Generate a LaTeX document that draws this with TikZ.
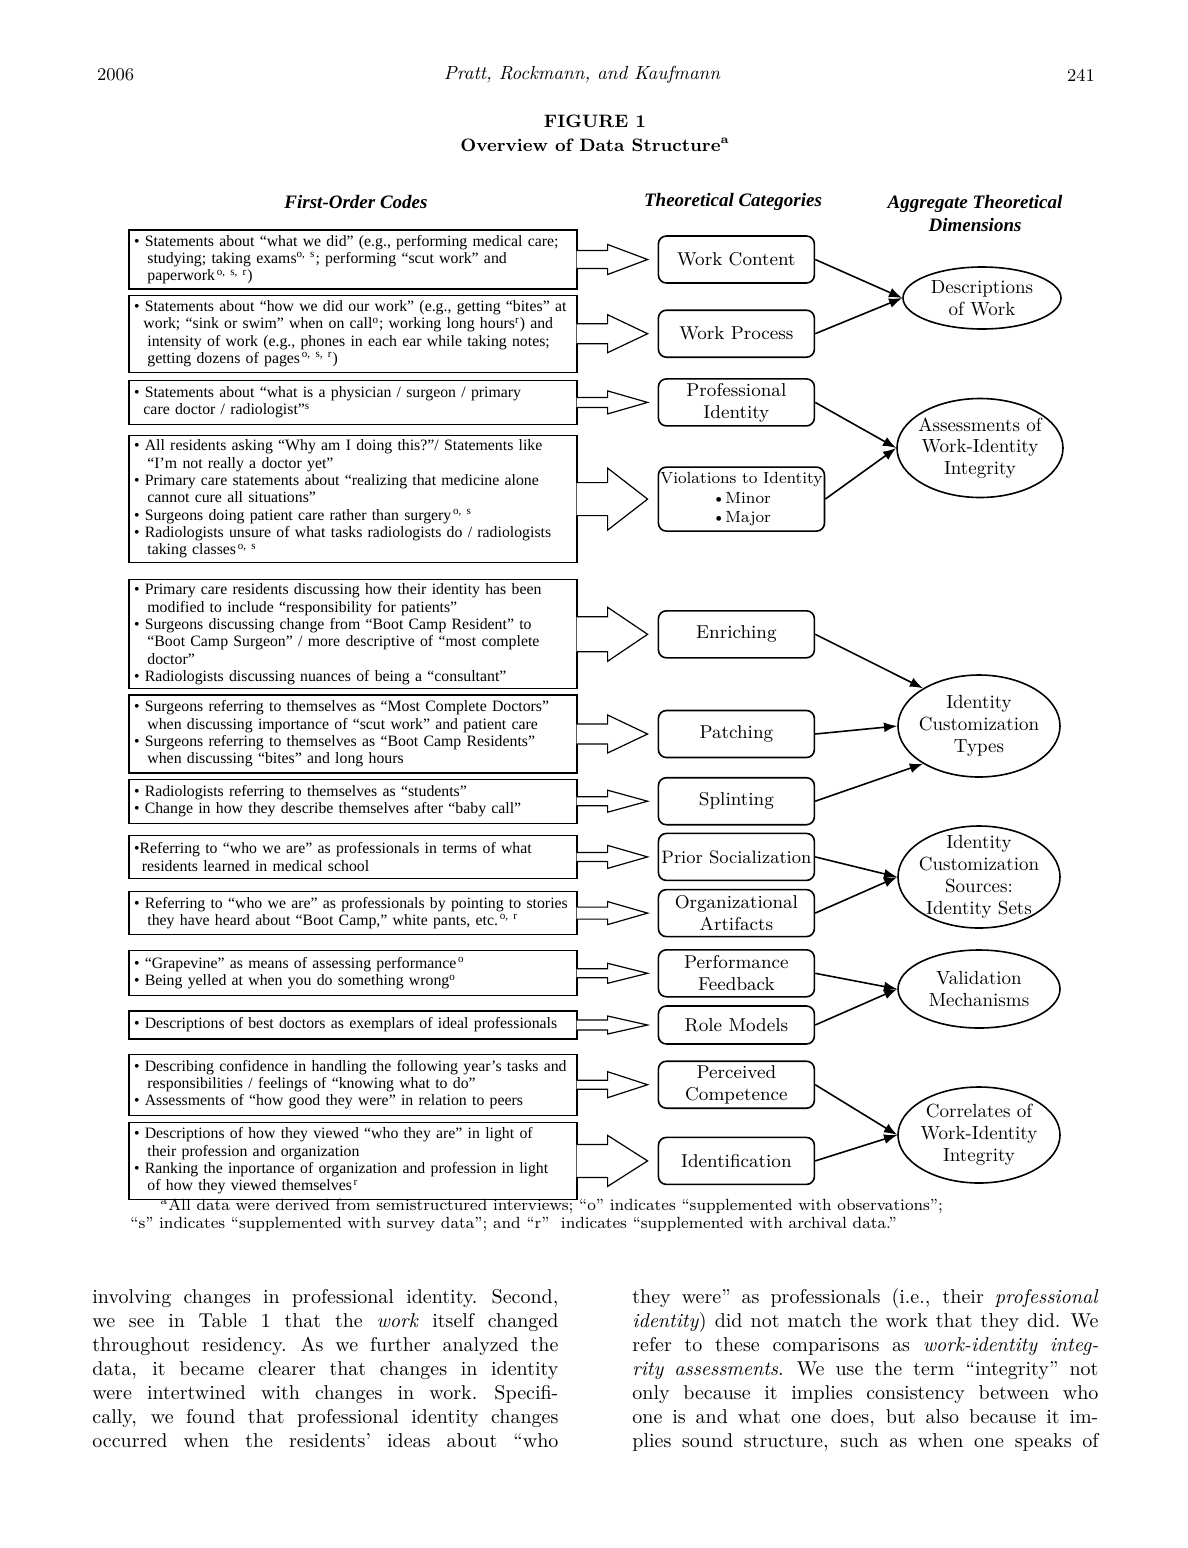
\documentclass[tikz,border=0pt]{standalone}
\usepackage{fontspec}
\newfontfamily\timesfont{Liberation Serif}
\usetikzlibrary{shapes,arrows,positioning,arrows.meta}
\newcommand{\jline}[1]{\leavevmode\hbox to 233pt{\spaceskip=0.3em plus 1fil\xspaceskip=0.4em plus 1fil\relax #1}}

\begin{document}
\begin{tikzpicture}[
    >=Latex,
    x=0.5pt, y=-0.5pt,
    code/.style={rectangle, draw=black, semithick, align=left, text width=219pt, inner xsep=2.5pt, inner ysep=0pt, font=\timesfont\fontsize{7.9}{8.65}\selectfont},
    cat/.style={rectangle, rounded corners=4pt, draw=black, thick, align=center, minimum width=78pt, minimum height=23.5pt, inner sep=1pt, font=\fontsize{9.3}{11}\selectfont},
    dim/.style={ellipse, draw=black, thick, align=center, inner sep=-6pt, minimum width=81pt, font=\fontsize{9.5}{10.9}\selectfont},
    colhead/.style={align=center, font=\timesfont\bfseries\itshape\fontsize{9.5}{11.5}\selectfont},
    blk/.style={fill=white, draw=black, semithick},
    body/.style={anchor=base west, align=left, text width=233pt, inner sep=0pt, font=\fontsize{10}{12}\selectfont},
    node distance=40pt
  ]
    \useasboundingbox[fill=white] (0,0) rectangle (1188,1548);

    % running head and title
    \node[anchor=west, font=\fontsize{9}{11}\selectfont] (year) at (90,75) {2006};
    \node[font=\itshape\fontsize{9.5}{11}\selectfont] (authors) at (582,75) {Pratt, Rockmann, and Kaufmann};
    \node[anchor=east, font=\fontsize{9}{11}\selectfont] (page) at (1102,75) {241};
    \node[font=\bfseries\fontsize{9}{11}\selectfont] (fig) at (595,121) {FIGURE 1};
    \node[font=\bfseries\fontsize{9}{11}\selectfont] (title) at (595,145) {Overview of Data Structure\textsuperscript{a}};

    \node[colhead] (h1) at (356,202) {First-Order Codes};
    \node[colhead] (h2) at (733,202) {Theoretical Categories};
    \node[colhead] (h3) at (975,213.5) {Aggregate Theoretical\\Dimensions};

    % first-order codes
    \node[code, minimum height=29.5pt] (c1) at (353,259.5) {\textbullet\ Statements about “what we did” (e.g., performing medical care;\\\hspace*{0.85em}studying; taking exams\textsuperscript{o, s}; performing “scut work” and\\\hspace*{0.85em}paperwork\textsuperscript{\,o, s, r})};
    \node[code, minimum height=38.5pt, below=2.5pt of c1] (c2) {\textbullet\ Statements about “how we did our work” (e.g., getting “bites” at\\\hspace*{0.6em}work; “sink or swim” when on call\textsuperscript{o}; working long hours\textsuperscript{r}) and\\\hspace*{0.85em}intensity of work (e.g., phones in each ear while taking notes;\\\hspace*{0.85em}getting dozens of pages\textsuperscript{\,o, s, r})};
    \node[code, minimum height=22pt, below=3.5pt of c2] (c3) {\textbullet\ Statements about “what is a physician / surgeon / primary\\\hspace*{0.6em}care doctor / radiologist”\textsuperscript{s}};
    \node[code, minimum height=63.5pt, below=5pt of c3] (c4) {\textbullet\ All residents asking “Why am I doing this?”/ Statements like\\\hspace*{0.85em}“I’m not really a doctor yet”\\\textbullet\ Primary care statements about “realizing that medicine alone\\\hspace*{0.85em}cannot cure all situations”\\\textbullet\ Surgeons doing patient care rather than surgery\textsuperscript{\,o, s}\\\textbullet\ Radiologists unsure of what tasks radiologists do / radiologists\\\hspace*{0.85em}taking classes\textsuperscript{\,o, s}};
    \node[code, minimum height=54.5pt, below=8pt of c4] (c5) {\textbullet\ Primary care residents discussing how their identity has been\\\hspace*{0.85em}modified to include “responsibility for patients”\\\textbullet\ Surgeons discussing change from “Boot Camp Resident” to\\\hspace*{0.85em}“Boot Camp Surgeon” / more descriptive of “most complete\\\hspace*{0.85em}doctor”\\\textbullet\ Radiologists discussing nuances of being a “consultant”};
    \node[code, minimum height=39pt, below=2.5pt of c5] (c6) {\textbullet\ Surgeons referring to themselves as “Most Complete Doctors”\\\hspace*{0.85em}when discussing importance of “scut work” and patient care\\\textbullet\ Surgeons referring to themselves as “Boot Camp Residents”\\\hspace*{0.85em}when discussing “bites” and long hours};
    \node[code, minimum height=22pt, below=2.5pt of c6] (c7) {\textbullet\ Radiologists referring to themselves as “students”\\\textbullet\ Change in how they describe themselves after “baby call”};
    \node[code, minimum height=21.5pt, below=5.5pt of c7] (c8) {\textbullet Referring to “who we are” as professionals in terms of what\\\hspace*{0.5em}residents learned in medical school};
    \node[code, minimum height=21.5pt, below=6pt of c8] (c9) {\textbullet\ Referring to “who we are” as professionals by pointing to stories\\\hspace*{0.85em}they have heard about “Boot Camp,” white pants, etc.\textsuperscript{\,o, r}};
    \node[code, minimum height=22.5pt, below=7.5pt of c9] (c10) {\textbullet\ “Grapevine” as means of assessing performance\textsuperscript{\,o}\\\textbullet\ Being yelled at when you do something wrong\textsuperscript{o}};
    \node[code, minimum height=14pt, below=7pt of c10] (c11) {\textbullet\ Descriptions of best doctors as exemplars of ideal professionals};
    \node[code, minimum height=30.5pt, below=7pt of c11] (c12) {\textbullet\ Describing confidence in handling the following year’s tasks and\\\hspace*{0.85em}responsibilities / feelings of “knowing what to do”\\\textbullet\ Assessments of “how good they were” in relation to peers};
    \node[code, minimum height=38.5pt, below=3pt of c12] (c13) {\textbullet\ Descriptions of how they viewed “who they are” in light of\\\hspace*{0.85em}their profession and organization\\\textbullet\ Ranking the inportance of organization and profession in light\\\hspace*{0.85em}of how they viewed themselves\textsuperscript{\,r}};

    % theoretical categories
    \node[cat, right=of c1] (wc) {Work Content};
    \node[cat, right=of c2] (wp) {Work Process};
    \node[cat, right=of c3] (pi) {Professional\\Identity};
    \node[cat, right=of c4, minimum height=32pt, font=\fontsize{8.1}{9.75}\selectfont] (vi) {Violations to Identity\\\textbullet Minor\\\textbullet Major};
    \node[cat, right=of c5] (en) {Enriching};
    \node[cat, right=of c6] (pa) {Patching};
    \node[cat, right=of c7] (sp) {Splinting};
    \node[cat, right=of c8, font=\fontsize{9}{11}\selectfont] (ps) {Prior Socialization};
    \node[cat, right=of c9] (oa) {Organizational\\Artifacts};
    \node[cat, right=of c10] (pf) {Performance\\Feedback};
    \node[cat, right=of c11, minimum height=19pt] (rm) {Role Models};
    \node[cat, right=of c12] (pc) {Perceived\\Competence};
    \node[cat, right=of c13] (id) {Identification};

    % aggregate dimensions
    \node[dim, minimum width=79pt, minimum height=31pt] (dw) at (982,298) {Descriptions\\of Work};
    \node[dim, minimum width=83pt, minimum height=49.5pt] (aw) at (980,448) {Assessments of\\Work-Identity\\Integrity};
    \node[dim, minimum height=51pt] (ict) at (979,726) {Identity\\Customization\\Types};
    \node[dim, minimum height=51pt] (ics) at (979,877) {Identity\\Customization\\Sources:\\Identity Sets};
    \node[dim, minimum height=39pt] (vm) at (979,989) {Validation\\Mechanisms};
    \node[dim, minimum height=48pt] (cw) at (979,1135) {Correlates of\\Work-Identity\\Integrity};

    % block arrows
    \filldraw[blk] (c1.east) ++(-1,-9) -- ++(31,0) -- ++(0,-6) -- ([xshift=-5pt]wc.west) -- ++(-40,15) -- ++(0,-6) -- ++(-31,0);
    \filldraw[blk] (c2.east) ++(-1,-10) -- ++(31,0) -- ++(0,-9) -- ([xshift=-5pt]wp.west) -- ++(-40,19) -- ++(0,-9) -- ++(-31,0);
    \filldraw[blk] (c3.east) ++(-1,-5) -- ++(31,0) -- ++(0,-6.5) -- ([xshift=-5pt]pi.west) -- ++(-40,11.5) -- ++(0,-6.5) -- ++(-31,0);
    \filldraw[blk] (c4.east) ++(-1,-16.5) -- ++(31,0) -- ++(0,-14.5) -- ([xshift=-5pt]vi.west) -- ++(-40,31) -- ++(0,-14.5) -- ++(-31,0);
    \filldraw[blk] (c5.east) ++(-1,-17.5) -- ++(31,0) -- ++(0,-9.5) -- ([xshift=-5pt]en.west) -- ++(-40,27) -- ++(0,-9.5) -- ++(-31,0);
    \filldraw[blk] (c6.east) ++(-1,-10) -- ++(31,0) -- ++(0,-9) -- ([xshift=-5pt]pa.west) -- ++(-40,19) -- ++(0,-9) -- ++(-31,0);
    \filldraw[blk] (c7.east) ++(-1,-4.5) -- ++(31,0) -- ++(0,-6.5) -- ([xshift=-5pt]sp.west) -- ++(-40,11) -- ++(0,-6.5) -- ++(-31,0);
    \filldraw[blk] (c8.east) ++(-1,-4.5) -- ++(31,0) -- ++(0,-7) -- ([xshift=-5pt]ps.west) -- ++(-40,11.5) -- ++(0,-7) -- ++(-31,0);
    \filldraw[blk] (c9.east) ++(-1,-6) -- ++(31,0) -- ++(0,-5.5) -- ([xshift=-5pt]oa.west) -- ++(-40,11.5) -- ++(0,-5.5) -- ++(-31,0);
    \filldraw[blk] (c10.east) ++(-1,-4.5) -- ++(31,0) -- ++(0,-5.5) -- ([xshift=-5pt]pf.west) -- ++(-40,10) -- ++(0,-5.5) -- ++(-31,0);
    \filldraw[blk] (c11.east) ++(-1,-5) -- ++(31,0) -- ++(0,-4) -- ([xshift=-5pt]rm.west) -- ++(-40,9) -- ++(0,-4) -- ++(-31,0);
    \filldraw[blk] (c12.east) ++(-1,-4.5) -- ++(31,0) -- ++(0,-8.5) -- ([xshift=-5pt]pc.west) -- ++(-40,13) -- ++(0,-8.5) -- ++(-31,0);
    \filldraw[blk] (c13.east) ++(-1,-16.5) -- ++(31,0) -- ++(0,-9) -- ([xshift=-5pt]id.west) -- ++(-40,25.5) -- ++(0,-9) -- ++(-31,0);

    % connectors
    \draw[->, thick] (wc.east) -- (dw.west);
    \draw[->, thick] (wp.east) -- (dw.west);
    \draw[->, thick] (pi.east) -- (aw.west);
    \draw[->, thick] (vi.east) -- (aw.west);
    \draw[->, thick] (en.east) -- (ict.146);
    \draw[->, thick] (pa.east) -- (ict.west);
    \draw[->, thick] (sp.east) -- (ict.214);
    \draw[->, thick] (ps.east) -- (ics.west);
    \draw[->, thick] (oa.east) -- (ics.west);
    \draw[->, thick] (pf.east) -- (vm.west);
    \draw[->, thick] (rm.east) -- (vm.west);
    \draw[->, thick] (pc.east) -- (cw.west);
    \draw[->, thick] (id.east) -- (cw.west);

    % note and running text
    \node[anchor=base west, align=left, inner sep=0pt, font=\fontsize{8.1}{9}\selectfont] (note) at (130,1228) {\hspace*{15pt}\textsuperscript{a}All data were derived from semistructured interviews; “o” indicates “supplemented with observations”;\\“s” indicates “supplemented with survey data”; and “r”\ \ indicates “supplemented with archival data.”};

    \node[body] (colL) at (92,1303) {\jline{involving changes in professional identity. Second,}\\\jline{we see in Table 1 that the \emph{work} itself changed}\\\jline{throughout residency. As we further analyzed the}\\\jline{data, it became clearer that changes in identity}\\\jline{were intertwined with changes in work. Specifi-}\\\jline{cally, we found that professional identity changes}\\\jline{occurred when the residents’ ideas about “who}};
    \node[body] (colR) at (632,1303) {\jline{they were” as professionals (i.e., their \emph{professional}}\\\jline{\emph{identity}) did not match the work that they did. We}\\\jline{refer to these comparisons as \emph{work-identity integ-}}\\\jline{\emph{rity assessments}. We use the term “integrity” not}\\\jline{only because it implies consistency between who}\\\jline{one is and what one does, but also because it im-}\\\jline{plies sound structure, such as when one speaks of}};
  \end{tikzpicture}
\end{document}
